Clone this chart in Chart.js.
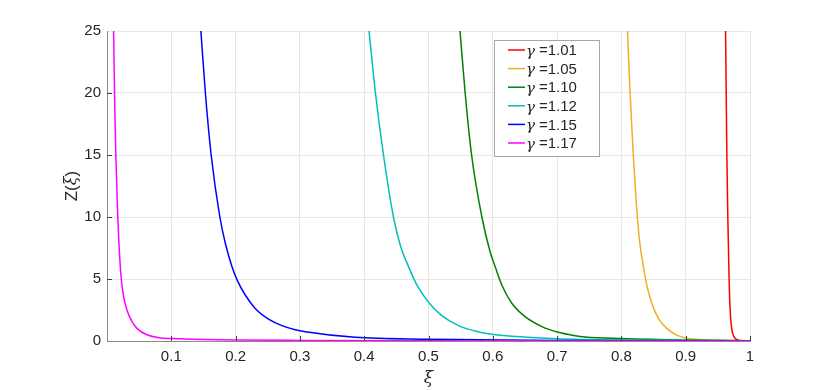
<!DOCTYPE html>
<html>
<head>
<meta charset="utf-8">
<script src="https://cdn.jsdelivr.net/npm/chart.js@4/dist/chart.umd.min.js"></script>
<style>
html,body{margin:0;padding:0;background:#fff;}
#wrap{width:830px;height:390px;}
</style>
</head>
<body>
<div id="wrap"><canvas id="c" width="830" height="390"></canvas></div>
<script>
// ---- data ----
const gammaLabels = ['1.01', '1.05', '1.10', '1.12', '1.15', '1.17'];
const seriesColors = ['#ff0000', '#edb120', '#008000', '#00bfbf', '#0000ff', '#ff00ff'];

const xi101 = [0.9620, 0.9630, 0.9640, 0.9655, 0.9675, 0.9690, 0.9715, 0.9750, 0.9800, 0.9900, 1.0];
const z101  = [25, 20, 15, 10, 5, 2.63, 1.02, 0.35, 0.1, 0.01, 0.0];

const xi105 = [0.8095, 0.8135, 0.8185, 0.8248, 0.8290, 0.8342, 0.8394, 0.8472, 0.8575, 0.8705, 0.8860, 0.9016, 0.927, 0.96, 1.0];
const z105  = [25, 20, 15, 10, 7.74, 6.0, 4.52, 3.04, 1.83, 1.02, 0.48, 0.22, 0.1, 0.04, 0.02];

const xi110 = [0.549, 0.557, 0.567, 0.583, 0.5958, 0.6036, 0.614, 0.6296, 0.6502, 0.6762, 0.702, 0.728, 0.7435, 0.8, 0.9, 1.0];
const z110  = [25, 20, 15, 10, 7.2, 6.0, 4.52, 3.04, 1.96, 1.16, 0.7, 0.43, 0.33, 0.2, 0.08, 0.03];

const xi112 = [0.4075, 0.4175, 0.4300, 0.4455, 0.456, 0.4689, 0.4819, 0.500, 0.5207, 0.5466, 0.5725, 0.5985, 0.653, 0.7, 0.8, 1.0];
const z112  = [25, 20, 15, 10, 7.74, 6.0, 4.52, 3.12, 2.04, 1.24, 0.81, 0.54, 0.3, 0.18, 0.08, 0.02];

const xi115 = [0.146, 0.153, 0.162, 0.1755, 0.1839, 0.1943, 0.2021, 0.215, 0.2305, 0.2512, 0.272, 0.2927, 0.3083, 0.386, 0.5, 0.7, 1.0];
const z115  = [25, 20, 15, 10, 7.9, 6.0, 4.95, 3.71, 2.63, 1.77, 1.24, 0.91, 0.75, 0.3, 0.15, 0.05, 0.02];

const xi117 = [0.0103, 0.0117, 0.0137, 0.0168, 0.0195, 0.0222, 0.0258, 0.031, 0.0389, 0.047, 0.062, 0.083, 0.1, 0.15, 0.2, 0.3, 0.5, 0.7, 1.0];
const z117  = [25, 20, 15, 10, 7, 5, 3.6, 2.5, 1.56, 1.0, 0.5, 0.25, 0.2, 0.12, 0.08, 0.05, 0.02, 0.01, 0.0];

const xTickValues = [0.1, 0.2, 0.3, 0.4, 0.5, 0.6, 0.7, 0.8, 0.9, 1];
const yTickValues = [0, 5, 10, 15, 20, 25];

const xiArrays = [xi101, xi105, xi110, xi112, xi115, xi117];
const zArrays  = [z101, z105, z110, z112, z115, z117];

// ---- build datasets ----
const datasets = gammaLabels.map((g, i) => ({
  label: 'γ =' + g,
  data: xiArrays[i].map((x, k) => ({x: x, y: zArrays[i][k]})),
  borderColor: seriesColors[i],
  backgroundColor: seriesColors[i],
  borderWidth: 1.5,
  pointRadius: 0,
  showLine: true,
  fill: false,
  cubicInterpolationMode: 'monotone',
  order: gammaLabels.length - 1 - i
}));

const SANS = '"Liberation Sans", Arial, Helvetica, sans-serif';
const SERIF = '"DejaVu Serif", "Liberation Serif", serif';
const TEXT = '#262626';

const decorPlugin = {
  id: 'decor',
  afterDraw(chart) {
    const ctx = chart.ctx;
    const a = chart.chartArea;
    const xs = chart.scales.x, ys = chart.scales.y;
    ctx.save();
    // inward tick marks
    ctx.strokeStyle = '#404040';
    ctx.lineWidth = 1;
    ctx.beginPath();
    xs.ticks.forEach(t => {
      if (t.value <= 0) return;
      const px = Math.round(xs.getPixelForValue(t.value)) + 0.5;
      ctx.moveTo(px, a.bottom);
      ctx.lineTo(px, a.bottom - 5);
    });
    ys.ticks.forEach(t => {
      if (t.value <= 0 || t.value >= 25) return;
      const py = Math.round(ys.getPixelForValue(t.value)) + 0.5;
      ctx.moveTo(a.left, py);
      ctx.lineTo(a.left + 5, py);
    });
    ctx.stroke();

    // x title (italic xi)
    ctx.fillStyle = TEXT;
    ctx.textAlign = 'center';
    ctx.textBaseline = 'middle';
    ctx.font = 'italic 17px ' + SERIF;
    ctx.fillText('ξ', (a.left + a.right) / 2, 379);

    // y title Z(ξ)
    ctx.save();
    ctx.translate(72, (a.top + a.bottom) / 2);
    ctx.rotate(-Math.PI / 2);
    const p1 = 'Z(', p2 = 'ξ', p3 = ')';
    ctx.font = '17px ' + SANS;
    const w1 = ctx.measureText(p1).width, w3 = ctx.measureText(p3).width;
    ctx.font = 'italic 16px ' + SERIF;
    const w2 = ctx.measureText(p2).width;
    let x0 = -(w1 + w2 + w3) / 2;
    ctx.textAlign = 'left';
    ctx.font = '17px ' + SANS;
    ctx.fillText(p1, x0, 0);
    ctx.font = 'italic 16px ' + SERIF;
    ctx.fillText(p2, x0 + w1, 0);
    ctx.font = '17px ' + SANS;
    ctx.fillText(p3, x0 + w1 + w2, 0);
    ctx.restore();

    // legend box
    const bx = 494, by = 40, bw = 105, bh = 116;
    ctx.fillStyle = '#ffffff';
    ctx.fillRect(bx, by, bw, bh);
    ctx.strokeStyle = '#a6a6a6';
    ctx.lineWidth = 1;
    ctx.strokeRect(bx + 0.5, by + 0.5, bw, bh);
    chart.data.datasets.forEach((ds, i) => {
      const yy = by + 10 + i * 18.6;
      ctx.strokeStyle = ds.borderColor;
      ctx.lineWidth = 1.5;
      ctx.beginPath();
      ctx.moveTo(508, yy);
      ctx.lineTo(525, yy);
      ctx.stroke();
      const parts = ds.label.split('=');
      ctx.fillStyle = TEXT;
      ctx.textAlign = 'left';
      ctx.textBaseline = 'middle';
      ctx.font = 'italic 15px ' + SERIF;
      ctx.fillText('γ', 526, yy + 2);
      ctx.font = '15px ' + SANS;
      ctx.fillText('=' + parts[1], 539, yy + 1);
    });
    ctx.restore();
  }
};

new Chart(document.getElementById('c'), {
  type: 'scatter',
  data: { datasets: datasets },
  options: {
    responsive: false,
    animation: false,
    devicePixelRatio: 1,
    layout: { padding: { top: 31, right: 80, bottom: 0, left: 0 } },
    plugins: { legend: { display: false }, tooltip: { enabled: false } },
    scales: {
      x: {
        type: 'linear',
        min: 0, max: 1,
        afterFit(s) { s.height = 49; },
        afterBuildTicks(s) { s.ticks = [{value: 0}].concat(xTickValues.map(v => ({value: v}))); },
        ticks: {
          padding: 7,
          color: TEXT,
          font: { family: SANS, size: 15 },
          maxRotation: 0,
          autoSkip: false,
          callback: (v) => v === 0 ? '' : String(v)
        },
        grid: { color: '#e8e8e8', drawTicks: false, lineWidth: 1 },
        border: { display: true, color: '#8a8a8a', width: 1 }
      },
      y: {
        type: 'linear',
        min: 0, max: 25,
        afterFit(s) { s.width = 107; },
        afterBuildTicks(s) { s.ticks = yTickValues.map(v => ({value: v})); },
        ticks: {
          padding: 6,
          color: TEXT,
          font: { family: SANS, size: 15 },
          autoSkip: false,
          callback: (v) => String(v)
        },
        grid: { color: '#e8e8e8', drawTicks: false, lineWidth: 1 },
        border: { display: true, color: '#8a8a8a', width: 1 }
      }
    }
  },
  plugins: [decorPlugin]
});
</script>
</body>
</html>
